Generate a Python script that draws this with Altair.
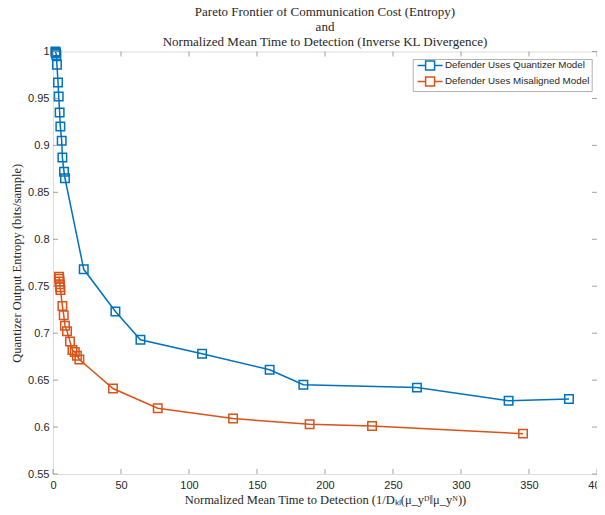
import altair as alt
import pandas as pd

series_names = ["Defender Uses Quantizer Model", "Defender Uses Misaligned Model"]
series_colors = ["#0072BD", "#D95319"]

blue_x = [1.8, 2.0, 2.2, 2.5, 2.9, 3.7, 4.2, 4.9, 5.4, 6.4, 6.9, 8.1, 8.8,
          22.6, 45.9, 64.3, 109.6, 159.3, 184.1, 267.6, 335.0, 379.4]
blue_y = [1.0, 0.999, 0.998, 0.996, 0.986, 0.967, 0.952, 0.935, 0.920, 0.905, 0.887, 0.872, 0.865,
          0.768, 0.723, 0.693, 0.678, 0.661, 0.645, 0.642, 0.628, 0.630]

orange_x = [4.4, 4.6, 4.8, 5.0, 5.2, 5.5, 6.9, 7.9, 8.8, 10.3, 12.5, 14.3, 16.0, 17.6, 19.4,
            44.1, 77.0, 132.4, 188.7, 234.6, 345.6]
orange_y = [0.760, 0.758, 0.755, 0.752, 0.749, 0.746, 0.729, 0.719, 0.708, 0.702, 0.691, 0.682,
            0.680, 0.676, 0.672, 0.641, 0.620, 0.609, 0.603, 0.601, 0.593]

x_ticks = [0, 50, 100, 150, 200, 250, 300, 350, 400]
y_ticks = [0.55, 0.6, 0.65, 0.7, 0.75, 0.8, 0.85, 0.9, 0.95, 1.0]

title_lines = ["Pareto Frontier of Communication Cost (Entropy)", "and",
               "Normalized Mean Time to Detection (Inverse KL Divergence)"]
x_title = "Normalized Mean Time to Detection (1/Dₖₗ(μ_yᴰ‖μ_yᴺ))"
y_title = "Quantizer Output Entropy (bits/sample)"

rows = []
for i, (x, y) in enumerate(zip(blue_x, blue_y)):
    rows.append({"series": series_names[0], "x": x, "y": y, "i": i})
for i, (x, y) in enumerate(zip(orange_x, orange_y)):
    rows.append({"series": series_names[1], "x": x, "y": y, "i": i})
df = pd.DataFrame(rows)

W, H = 544, 422.5
TXT = "#262626"
FRAME = "#8a8a8a"
SANS = "Liberation Sans"
SERIF = "Liberation Serif"

xs = alt.Scale(domain=[0, 400], nice=False, zero=False)
ys = alt.Scale(domain=[0.55, 1.0], nice=False, zero=False)

legend_path = "M-5,0H-1.8M1.8,0H5M-1.8,-1.8H1.8V1.8H-1.8Z"
color = alt.Color(
    "series:N",
    scale=alt.Scale(domain=series_names, range=series_colors),
    legend=alt.Legend(
        title=None, orient="none", legendX=359.7, legendY=7.5,
        symbolType=legend_path, symbolSize=25, symbolOffset=11,
        symbolStrokeWidth=1.5, symbolFillColor="transparent",
        labelFont=SANS, labelFontSize=9.8, labelColor=TXT, labelOffset=10,
        padding=1.5, rowPadding=0, fillColor="white", strokeColor="#b0b0b0",
        cornerRadius=0, labelLimit=300,
    ),
)

x_axis = alt.Axis(values=x_ticks, title=x_title)
y_axis = alt.Axis(values=y_ticks, format=".2~f", title=y_title)

base = alt.Chart(df)
lines = base.mark_line(strokeWidth=1.5).encode(
    x=alt.X("x:Q", scale=xs, axis=x_axis),
    y=alt.Y("y:Q", scale=ys, axis=y_axis),
    color=color,
    order="i:Q",
)
points = base.mark_point(shape="square", filled=False, size=72, strokeWidth=1.5, opacity=1).encode(
    x=alt.X("x:Q", scale=xs, axis=x_axis),
    y=alt.Y("y:Q", scale=ys, axis=y_axis),
    color=color,
)

xt = alt.Chart(pd.DataFrame({"t": x_ticks}))
yt = alt.Chart(pd.DataFrame({"t": y_ticks}))
tick_style = dict(color=FRAME, strokeWidth=0.8)
bottom_ticks = xt.mark_rule(**tick_style).encode(
    x=alt.X("t:Q", scale=xs, axis=x_axis), y=alt.value(H), y2=alt.value(H - 5))
top_ticks = xt.mark_rule(**tick_style).encode(
    x=alt.X("t:Q", scale=xs, axis=x_axis), y=alt.value(0), y2=alt.value(5))
left_ticks = yt.mark_rule(**tick_style).encode(
    y=alt.Y("t:Q", scale=ys, axis=y_axis), x=alt.value(0), x2=alt.value(5))
right_ticks = yt.mark_rule(**tick_style).encode(
    y=alt.Y("t:Q", scale=ys, axis=y_axis), x=alt.value(W), x2=alt.value(W - 5))

chart = alt.layer(lines, points, bottom_ticks, top_ticks, left_ticks, right_ticks).properties(
    width=W, height=H,
    title=alt.TitleParams(text=title_lines, font=SERIF, fontSize=13, fontWeight="normal",
                          color=TXT, anchor="middle", lineHeight=15, offset=-5),
    autosize=alt.AutoSizeParams(type="none"),
    padding={"left": 45, "top": 43.5, "right": 0, "bottom": 40},
).configure_view(stroke=FRAME, strokeWidth=1).configure(background="white").configure_axis(
    ticks=False, domain=False, grid=False, labelFlush=False,
    labelFont=SANS, labelFontSize=11, labelColor=TXT,
    titleFont=SERIF, titleFontSize=12.5, titleFontWeight="normal", titleColor=TXT,
).configure_axisX(labelPadding=5, titlePadding=3).configure_axisY(labelPadding=4, titlePadding=4)

chart.save("out.html", embed_options={"renderer": "svg", "actions": False})
